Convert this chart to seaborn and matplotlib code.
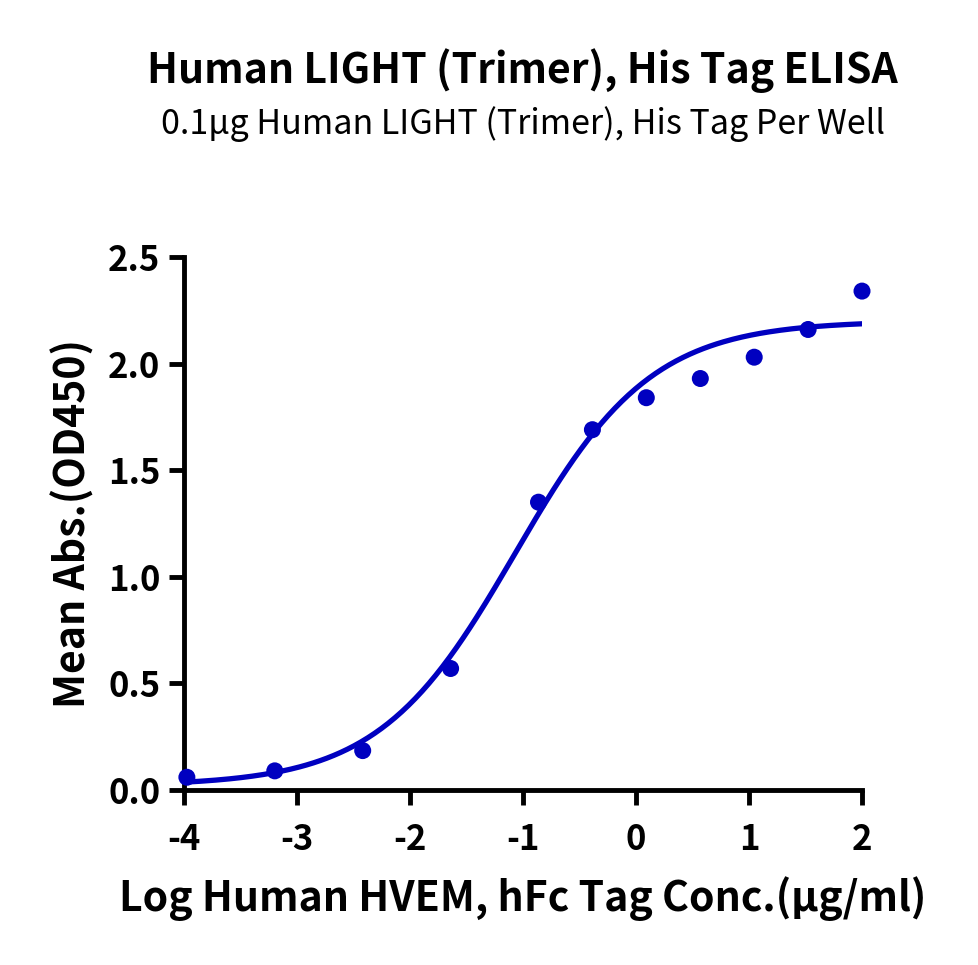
import numpy as np
import pandas as pd
import matplotlib
matplotlib.use('Agg')
import matplotlib.pyplot as plt
import seaborn as sns

# Measured points (log conc in ug/ml vs mean OD450)
log_conc = [-3.975, -3.197, -2.419, -1.641, -0.863, -0.386, 0.091, 0.569, 1.046, 1.523, 2.0]
mean_abs = [0.06, 0.09, 0.185, 0.57, 1.35, 1.69, 1.84, 1.93, 2.03, 2.16, 2.34]

# 4PL fit parameters
fit_bottom = 0.02
fit_top = 2.20
fit_log_ec50 = -1.07
fit_hill = 0.72

title = 'Human LIGHT (Trimer), His Tag ELISA'
subtitle = '0.1\u03bcg Human LIGHT (Trimer), His Tag Per Well'
x_label = 'Log Human HVEM, hFc Tag Conc.(\u03bcg/ml)'
y_label = 'Mean Abs.(OD450)'
x_ticks = [-4, -3, -2, -1, 0, 1, 2]
y_ticks = [0.0, 0.5, 1.0, 1.5, 2.0, 2.5]

blue = '#0000C0'

sns.set_theme(style='ticks')
plt.rcParams['font.family'] = ['Noto Sans CJK SC', 'DejaVu Sans']
plt.rcParams['text.color'] = 'black'
plt.rcParams['axes.labelcolor'] = 'black'
plt.rcParams['xtick.color'] = 'black'
plt.rcParams['ytick.color'] = 'black'

df = pd.DataFrame({'x': log_conc, 'y': mean_abs})
xs = np.linspace(min(x_ticks), max(x_ticks), 300)
curve = pd.DataFrame({
    'x': xs,
    'y': fit_bottom + (fit_top - fit_bottom) / (1 + 10 ** ((fit_log_ec50 - xs) * fit_hill)),
})

fig = plt.figure(figsize=(9.79, 9.65), dpi=100)
ax = fig.add_axes([0.188, 0.1813, 0.6925, 0.5524])

sns.lineplot(data=curve, x='x', y='y', ax=ax, color=blue, linewidth=3.8)
sns.scatterplot(data=df, x='x', y='y', ax=ax, color=blue, s=150,
                edgecolor='none', zorder=3, clip_on=False)

ax.set_xlim(-4, 2)
ax.set_ylim(0, 2.5)
ax.set_xticks(x_ticks)
ax.set_yticks(y_ticks)
ax.set_xticklabels([str(t) for t in x_ticks])
ax.set_yticklabels([f'{t:.1f}' for t in y_ticks])

for side in ['top', 'right']:
    ax.spines[side].set_visible(False)
for side in ['left', 'bottom']:
    ax.spines[side].set_linewidth(3.5)
    ax.spines[side].set_color('black')
ax.tick_params(axis='both', width=3.5, length=11, color='black',
               labelcolor='black', labelsize=25)
ax.tick_params(axis='x', pad=12)
ax.tick_params(axis='y', pad=6)
for lab in ax.get_xticklabels() + ax.get_yticklabels():
    lab.set_fontweight('black')

ax.set_xlabel(x_label, fontsize=29.5, fontweight='black', labelpad=14)
ax.set_ylabel(y_label, fontsize=29.5, fontweight='black', labelpad=10)

fig.text(0.534, 0.927, title, ha='center', va='center', fontsize=29.5, fontweight='black')
fig.text(0.534, 0.871, subtitle, ha='center', va='center', fontsize=24.5)

fig.savefig('out.png', dpi=100)
